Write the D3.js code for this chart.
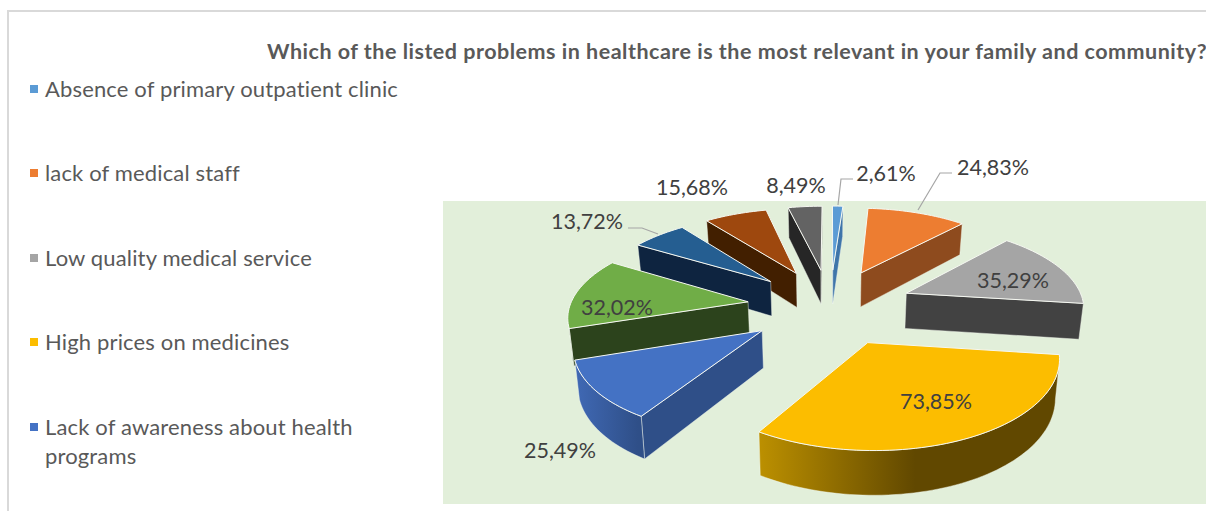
<!DOCTYPE html>
<html><head><meta charset="utf-8">
<script src="https://cdn.jsdelivr.net/npm/d3@7/dist/d3.min.js"></script>
<style>html,body{margin:0;padding:0;background:#fff;overflow:hidden}svg{display:block;font-family:Lato,"Open Sans",sans-serif}</style>
</head><body><svg id="c" width="1206" height="511"></svg>
<script>
const titleText = "Which of the listed problems in healthcare is the most relevant in your family and community?";
const categories = ["Absence of primary outpatient clinic","lack of medical staff","Low quality medical service","High prices on medicines","Lack of awareness about health programs","Category 6","Category 7","Category 8","Category 9"];
const values = [2.61,24.83,35.29,73.85,25.49,32.02,13.72,15.68,8.49];
const labels = ["2,61%","24,83%","35,29%","73,85%","25,49%","32,02%","13,72%","15,68%","8,49%"];
const legendLines = [["Absence of primary outpatient clinic"],["lack of medical staff"],["Low quality medical service"],["High prices on medicines"],["Lack of awareness about health","programs"]];
const topColors = ["#5b9bd5","#ed7d31","#a5a5a5","#fcbd00","#4472c4","#70ad47","#255e91","#9e480e","#636363"];
const sideColors = ["#3f75aa","#8e4b1e","#424242","#614800","#2f4f88","#2c431c","#0e2440","#421f00","#262626"];
const wallLeft = ["#3f75aa","#8e4b1e","#424242","#bc9000","#4069b5","#2c431c","#0e2440","#421f00","#262626"];
const wallStop = [.5,.5,.5,.52,.95,.5,.5,.5,.5];
// layout (not data)
const labelPos = [[886,174],[993,168],[1013,281],[936,402],[560,451],[617,308],[587,222],[692,188],[796,186]];
const leaderPaths = [[[838,205],[841,179],[853,179]],[[918,210],[940,173],[952,173]],null,null,null,null,[[658,234],[642,228],[628,228]],null,null];
const legendY = [89,173,258,342,427];
const cx=830, cy=306, k=0.46, persp=0.00077, R=178, explode=83, depth=36, wallShrink=0.982;

const svg = d3.select("#c");
const defs = svg.append("defs");
svg.append("rect").attr("x",443).attr("y",201).attr("width",763).attr("height",303).attr("fill","#e2efda");
svg.append("path").attr("d",d3.line()([[8,511],[8,11],[1206,11]])).attr("fill","none").attr("stroke","#d9d9d9").attr("stroke-width",2);
svg.append("text").attr("x",267).attr("y",59).attr("font-size",21.5).attr("letter-spacing",.5).attr("font-weight",700).attr("fill","#595959").text(titleText);

const legend = svg.selectAll("g.leg").data(legendLines).join("g").attr("class","leg");
legend.append("rect").attr("x",30).attr("y",(d,i)=>legendY[i]-4).attr("width",8).attr("height",8).attr("fill",(d,i)=>topColors[i]);
legend.each(function(lines,i){
  d3.select(this).selectAll("text").data(lines).join("text").attr("x",45).attr("y",(l,j)=>legendY[i]+8+j*29)
    .attr("font-size",22).attr("letter-spacing",.15).attr("fill","#595959").text(l=>l);
});

const project = (X,Y,h=0)=>{const w=1+persp*Y;const s=h?wallShrink:1;return [cx+s*X/w, cy-k*Y/w+h/w];};
const arcs = d3.pie().sort(null).value(d=>d)(values);
const slices = arcs.map((a,i)=>{
  const mid=(a.startAngle+a.endAngle)/2;
  const ax=explode*Math.sin(mid), ay=explode*Math.cos(mid);
  const n=Math.max(4,Math.ceil((a.endAngle-a.startAngle)/0.03));
  const ring=d3.range(n+1).map(t=>{const th=a.startAngle+(a.endAngle-a.startAngle)*t/n;return [ax+R*Math.sin(th),ay+R*Math.cos(th)];});
  return {i,ax,ay,ring,my:ay+R*0.6*Math.cos(mid)};
}).sort((p,q)=>q.my-p.my);

const line=d3.line();
slices.forEach(s=>{
  const g=svg.append("g");
  const apexT=project(s.ax,s.ay), apexB=project(s.ax,s.ay,depth);
  const top=s.ring.map(p=>project(p[0],p[1]));
  const bot=s.ring.map(p=>project(p[0],p[1],depth));
  const quad=(a,b,c,d,fill)=>g.append("path").attr("d",line([a,b,c,d])+"Z").attr("fill",fill).attr("stroke","#f4f7ef").attr("stroke-opacity",.55).attr("stroke-width",.8).attr("stroke-linejoin","round");
  const last=top.length-1;
  if(top[0][0]<apexT[0]) quad(apexT,top[0],bot[0],apexB,sideColors[s.i]);
  if(apexT[0]<top[last][0]) quad(top[last],apexT,apexB,bot[last],sideColors[s.i]);
  let from=-1,to=-1;
  for(let j=0;j<last;j++){ if(top[j+1][0]<top[j][0]){ if(from<0)from=j; to=j+1; } }
  if(from>=0){
    const id="w"+s.i, xs=top.slice(from,to+1).map(p=>p[0]), x0=d3.min(xs), x1=d3.max(xs);
    const gr=defs.append("linearGradient").attr("id",id).attr("gradientUnits","userSpaceOnUse").attr("x1",x0).attr("x2",x1).attr("y1",0).attr("y2",0);
    gr.append("stop").attr("offset",0).attr("stop-color",wallLeft[s.i]);
    gr.append("stop").attr("offset",wallStop[s.i]).attr("stop-color",sideColors[s.i]);
    gr.append("stop").attr("offset",1).attr("stop-color",sideColors[s.i]);
    g.append("path").attr("d",line(top.slice(from,to+1).concat(bot.slice(from,to+1).reverse()))+"Z").attr("fill",`url(#${id})`).attr("stroke","#f4f7ef").attr("stroke-opacity",.55).attr("stroke-width",.8);
  }
  g.append("path").attr("d",line([apexT].concat(top))+"Z").attr("fill",topColors[s.i]).attr("stroke","#f6f8f2").attr("stroke-width",1).attr("stroke-linejoin","round");
});

svg.selectAll("path.lead").data(leaderPaths.filter(Boolean)).join("path").attr("class","lead").attr("d",d=>line(d)).attr("fill","none").attr("stroke","#a6a6a6").attr("stroke-width",1.2);
svg.selectAll("text.lab").data(labels).join("text").attr("class","lab").attr("x",(d,i)=>labelPos[i][0]).attr("y",(d,i)=>labelPos[i][1]+7)
  .attr("text-anchor","middle").attr("font-size",21.5).attr("fill","#404040").text(d=>d);
</script></body></html>
